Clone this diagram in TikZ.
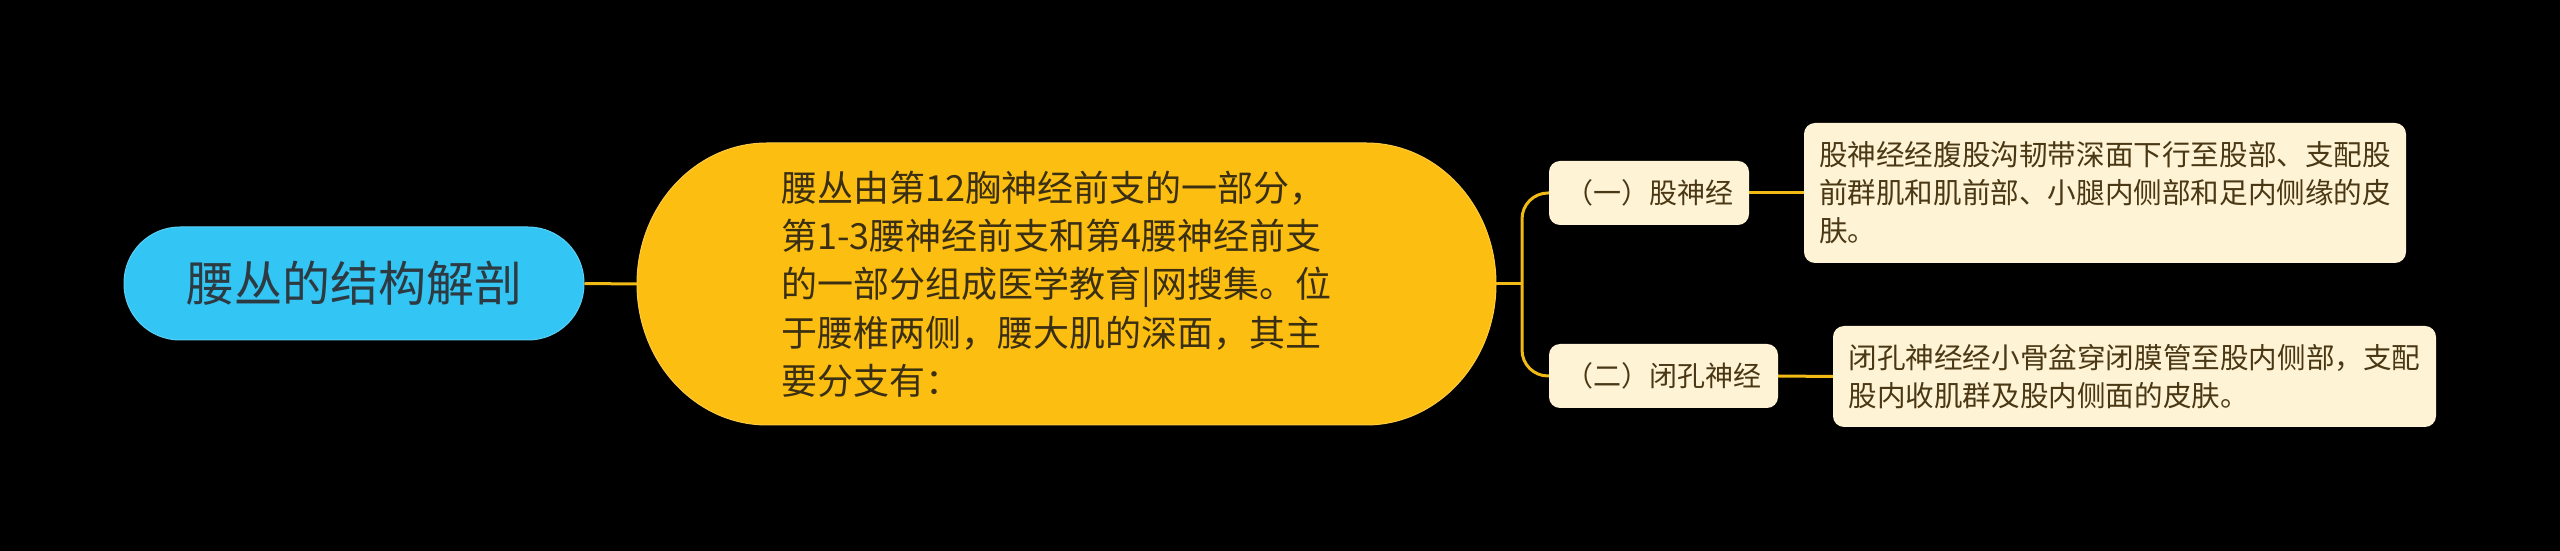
\documentclass[tikz,border=0pt]{standalone}
\usepackage{fontspec}
\setmainfont{Noto Sans CJK SC}
\definecolor{bgc}{HTML}{000000}
\definecolor{rootc}{HTML}{33C5F4}
\definecolor{rootedge}{HTML}{5BD0F5}
\definecolor{mainc}{HTML}{FDBE12}
\definecolor{creamc}{HTML}{FEF3D5}
\definecolor{linec}{HTML}{F2BA14}
\definecolor{roottext}{HTML}{2E3A42}
\definecolor{maintext}{HTML}{3A2F12}
\definecolor{leaftext}{HTML}{4A3815}
\begin{document}
\begin{tikzpicture}[x=1pt,y=1pt,
  rootbox/.style={fill=rootc,draw=rootedge,line width=1pt,rounded corners=56pt,minimum width=460pt,minimum height=113pt,inner sep=0pt,text=roottext,font=\fontsize{48}{56}\selectfont},
  mainbox/.style={minimum width=859pt,minimum height=282pt,inner sep=0pt,text=maintext,align=left,font=\fontsize{36}{48.3}\selectfont},
  branchbox/.style={fill=creamc,rounded corners=11pt,minimum height=64pt,inner sep=0pt,text=leaftext,font=\fontsize{28}{34}\selectfont},
  leafbox/.style={fill=creamc,rounded corners=11pt,inner sep=0pt,text=leaftext,align=left,font=\fontsize{28.6}{38}\selectfont},
  conn/.style={draw=linec,line width=3pt}]
\fill[bgc] (0,0) rectangle (2560,551);
\useasboundingbox (0,0) rectangle (2560,551);
% main yellow shape
\fill[mainc,draw=mainc!80!white,line width=1pt] (767,408) -- (1366,408)
  arc[start angle=90,end angle=-90,x radius=130,y radius=141]
  -- (767,126) arc[start angle=270,end angle=90,x radius=130,y radius=141] -- cycle;
\node[rootbox] (root) at (354,267.5) {腰丛的结构解剖};
\node[mainbox] (main) at (1066.5,267) {\raisebox{-4pt}{\parbox{570pt}{\raggedright 腰丛由第12胸神经前支的一部分，\\第1-3腰神经前支和第4腰神经前支\\的一部分组成医学教育|网搜集。位\\于腰椎两侧，腰大肌的深面，其主\\要分支有：}}};
\node[branchbox,minimum width=200pt] (b1) at (1649,358) {（一）股神经};
\node[branchbox,minimum width=229pt] (b2) at (1663.5,175) {（二）闭孔神经};
\node[leafbox,minimum width=602pt,minimum height=140pt] (l1) at (2105,358) {股神经经腹股沟韧带深面下行至股部、支配股\\前群肌和肌前部、小腿内侧部和足内侧缘的皮\\肤。};
\node[leafbox,minimum width=603pt,minimum height=101pt] (l2) at (2134.5,174.5) {闭孔神经经小骨盆穿闭膜管至股内侧部，支配\\股内收肌群及股内侧面的皮肤。};
\coordinate (jx) at (1522,267);
\draw[conn] (root.east) -- (main.west);
\draw[conn] (main.east) -- (jx);
\draw[conn,rounded corners=26pt] (b1.west) -| (jx) |- (b2.west);
\draw[conn] (b1.east) -- (l1.west);
\draw[conn] (b2.east) -- (l2.west);
\end{tikzpicture}
\end{document}
